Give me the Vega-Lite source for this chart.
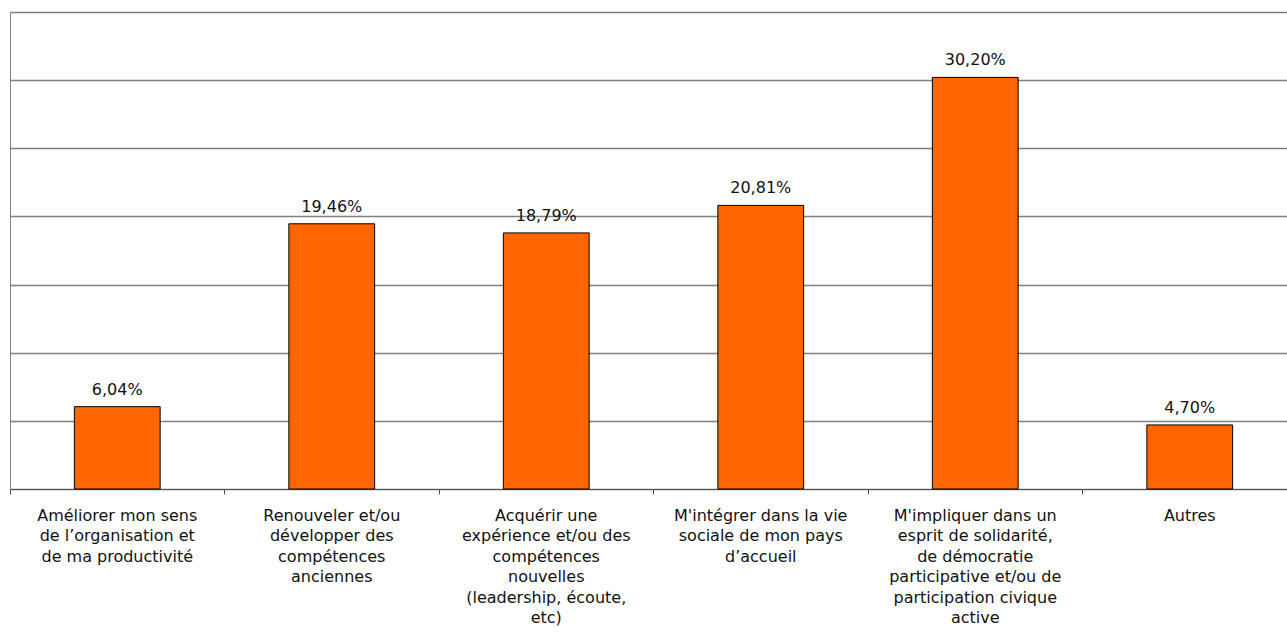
{
  "$schema": "https://vega.github.io/schema/vega-lite/v6.json",
  "width": 1287,
  "height": 477,
  "autosize": {"type": "none"},
  "padding": {"left": 10, "top": 12, "right": -10, "bottom": 143},
  "config": {
    "locale": {"number": {"decimal": ",", "thousands": " ", "grouping": [3], "currency": ["", " €"]}},
    "view": {"stroke": null},
    "font": "DejaVu Sans"
  },
  "data": {
    "values": [
      {"categorie": "Améliorer mon sens\nde l’organisation et\nde ma productivité", "part": 0.0604},
      {"categorie": "Renouveler et/ou\ndévelopper des\ncompétences\nanciennes", "part": 0.1946},
      {"categorie": "Acquérir une\nexpérience et/ou des\ncompétences\nnouvelles\n(leadership, écoute,\netc)", "part": 0.1879},
      {"categorie": "M'intégrer dans la vie\nsociale de mon pays\nd’accueil", "part": 0.2081},
      {"categorie": "M'impliquer dans un\nesprit de solidarité,\nde démocratie\nparticipative et/ou de\nparticipation civique\nactive", "part": 0.302},
      {"categorie": "Autres", "part": 0.047}
    ]
  },
  "encoding": {
    "x": {
      "field": "categorie",
      "type": "nominal",
      "sort": null,
      "scale": {"paddingInner": 0, "paddingOuter": 0},
      "axis": {
        "title": null,
        "labelAngle": 0,
        "labelExpr": "split(datum.value, '\\n')",
        "labelFontSize": 16,
        "labelLineHeight": 20.5,
        "labelColor": "#111111",
        "labelBaseline": "top",
        "labelPadding": 13,
        "labelLimit": 0,
        "labelFont": "DejaVu Sans",
        "tickColor": "#505050",
        "tickSize": 5,
        "domainColor": "#505050",
        "bandPosition": 0
      }
    },
    "y": {
      "field": "part",
      "type": "quantitative",
      "scale": {"domain": [0, 0.35]},
      "axis": {
        "title": null,
        "labels": false,
        "ticks": false,
        "domain": true,
        "domainColor": "#808080",
        "grid": true,
        "gridColor": "#808080",
        "gridWidth": 1.5,
        "values": [0, 0.05, 0.1, 0.15, 0.2, 0.25, 0.3, 0.35]
      }
    }
  },
  "layer": [
    {
      "mark": {"type": "bar", "width": {"band": 0.4}, "color": "#FF6600", "stroke": "#000000", "strokeWidth": 1}
    },
    {
      "mark": {"type": "text", "dy": -12, "baseline": "alphabetic", "fontSize": 16, "color": "#111111", "font": "DejaVu Sans"},
      "encoding": {"text": {"field": "part", "type": "quantitative", "format": ".2%"}}
    }
  ]
}
